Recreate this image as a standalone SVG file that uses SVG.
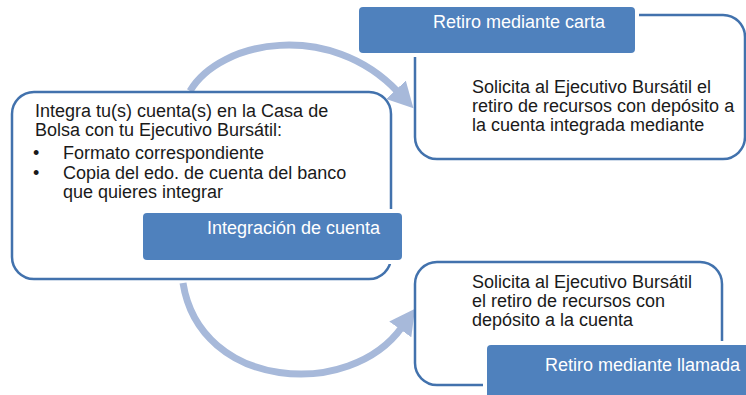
<svg xmlns="http://www.w3.org/2000/svg" width="746" height="395" viewBox="0 0 746 395">
<defs>
<style>
.box{fill:#fff;stroke:#4272ad;stroke-width:2.5}
.lbl{fill:#4f81bd;stroke:#fff;stroke-width:8;paint-order:stroke}
.t{font-family:"Liberation Sans",Arial,sans-serif;font-size:18px;fill:#1a1a1a}
.lt{font-family:"Liberation Sans",Arial,sans-serif;font-size:18px;fill:#fff}
.arr{fill:none;stroke:#a7b9da;stroke-width:7}
</style>
<marker id="ah" markerUnits="userSpaceOnUse" markerWidth="30" markerHeight="30" refX="2" refY="10" orient="auto" viewBox="0 0 20 20">
<path d="M0,1 L17,10 L0,19 Z" fill="#a7b9da"/>
</marker>
</defs>
<g id="connectors">
<path class="arr" d="M190,91 C220,40 330,20 398,92" marker-end="url(#ah)"/>
<path class="arr" d="M183,283 C200,390 350,400 402,327" marker-end="url(#ah)"/>
</g>
<g id="integracion">
<rect class="box" x="12" y="92" width="379" height="187" rx="22"/>
<text class="t" x="35" y="117">Integra tu(s) cuenta(s) en la Casa de</text>
<text class="t" x="35" y="136">Bolsa con tu Ejecutivo Bursátil:</text>
<text class="t" x="33" y="159">•</text>
<text class="t" x="63" y="159">Formato correspondiente</text>
<text class="t" x="33" y="179">•</text>
<text class="t" x="63" y="179">Copia del edo. de cuenta del banco</text>
<text class="t" x="63" y="198">que quieres integrar</text>
<rect class="lbl" x="143" y="213" width="259" height="47" rx="4"/>
<text class="lt" x="207" y="234">Integración de cuenta</text>
</g>
<g id="carta">
<rect class="box" x="415" y="15" width="330" height="144" rx="22"/>
<text class="t" x="472" y="93">Solicita al Ejecutivo Bursátil el</text>
<text class="t" x="472" y="112">retiro de recursos con depósito a</text>
<text class="t" x="472" y="131">la cuenta integrada mediante</text>
<rect class="lbl" x="359" y="7" width="276" height="46" rx="4"/>
<text class="lt" x="433" y="28">Retiro mediante carta</text>
</g>
<g id="llamada">
<rect class="box" x="415" y="262" width="307" height="123" rx="22"/>
<text class="t" x="472" y="288">Solicita al Ejecutivo Bursátil</text>
<text class="t" x="472" y="307">el retiro de recursos con</text>
<text class="t" x="472" y="326">depósito a la cuenta</text>
<rect class="lbl" x="487" y="345" width="270" height="60" rx="4"/>
<text class="lt" x="545" y="371">Retiro mediante llamada</text>
</g>
</svg>
